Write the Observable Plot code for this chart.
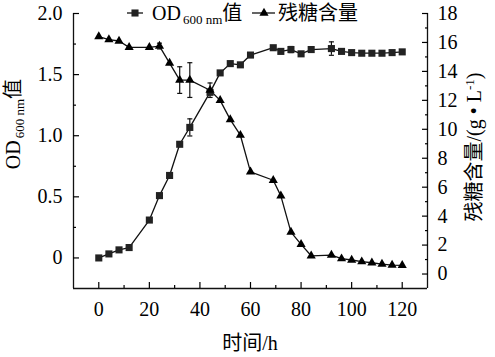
<!DOCTYPE html>
<html><head><meta charset="utf-8">
<script src="https://cdn.jsdelivr.net/npm/d3@7"></script>
<script src="https://cdn.jsdelivr.net/npm/@observablehq/plot@0.6"></script>
<style>
body{margin:0;background:#fff;}
#chart{position:relative;width:495px;height:357px;}
#chart svg, #chart svg text, #chart svg tspan {font-family:'Liberation Serif','Noto Sans CJK SC',serif !important;}
</style></head><body><div id="chart"></div>
<script>
const time  = [0, 4, 8, 12, 20, 24, 28, 32, 36, 44, 48, 52, 56, 60, 69, 72, 76, 80, 84, 92, 96, 100, 104, 108, 112, 116, 120];
const od    = [0, 0.033, 0.066, 0.085, 0.31, 0.51, 0.675, 0.93, 1.068, 1.355, 1.514, 1.59, 1.58, 1.66, 1.72, 1.69, 1.705, 1.67, 1.705, 1.713, 1.69, 1.68, 1.675, 1.675, 1.675, 1.68, 1.686];
const sugar = [16.4, 16.2, 16.1, 15.66, 15.66, 15.75, 14.57, 13.4, 13.4, 12.7, 12.0, 10.67, 9.59, 7.06, 6.48, 5.4, 2.9, 2.05, 1.26, 1.31, 1.06, 0.97, 0.85, 0.78, 0.69, 0.62, 0.6];
const odErrTime = [36, 76, 92];
const odErr = [0.07, 0.025, 0.055];
const sugarErrTime = [24, 32, 36, 44];
const sugarErr = [0.2, 0.92, 1.2, 0.5];
const xTicks = [0, 20, 40, 60, 80, 100, 120];
const xMinor = [10, 30, 50, 70, 90, 110];
const odTicks = [0, 0.5, 1.0, 1.5, 2.0];
const odMinor = [0.25, 0.75, 1.25, 1.75];
const sugarTicks = [0, 2, 4, 6, 8, 10, 12, 14, 16, 18];
const sugarMinor = [1, 3, 5, 7, 9, 11, 13, 15, 17];
const xDomain = [-10, 130];
const odDomain = [-0.25, 2.0];
const sugarDomain = [-1, 18];
const xTitle = "时间/h";
const legendOD = ["OD", "600 nm", "值"];
const legendSugar = "残糖含量";
const rightTitle = ["残糖含量/(g • L", "-1", ")"];

const toOD = v => odDomain[0] + (v - sugarDomain[0]) / (sugarDomain[1] - sugarDomain[0]) * (odDomain[1] - odDomain[0]);
const fromOD = y => sugarDomain[0] + (y - odDomain[0]) / (odDomain[1] - odDomain[0]) * (sugarDomain[1] - sugarDomain[0]);

const rows = time.map((t, i) => ({t, od: od[i], s: toOD(sugar[i])}));
const odErrRows = odErrTime.map((t, i) => ({t, v: od[time.indexOf(t)], e: odErr[i]}));
const sErrRows = sugarErrTime.map((t, i) => {
  const v = sugar[time.indexOf(t)];
  return {t, lo: toOD(v - sugarErr[i]), hi: toOD(v + sugarErr[i])};
});
const errRows = [
  ...odErrRows.map(d => ({t: d.t, lo: d.v - d.e, hi: d.v + d.e})),
  ...sErrRows
];
const capRows = errRows.flatMap(d => [{t: d.t, y: d.lo}, {t: d.t, y: d.hi}]);

const font = "'Liberation Serif','Noto Sans CJK SC',serif";
const ink = "#111";

const plot = Plot.plot({
  width: 495, height: 357,
  marginLeft: 73, marginRight: 68, marginTop: 13, marginBottom: 69,
  x: {domain: xDomain},
  y: {domain: odDomain},
  style: {fontSize: "20px", color: "#000", background: "#fff"},
  marks: [
    Plot.ruleX([xDomain[0], xDomain[1]], {stroke: ink, strokeWidth: 1.3}),
    Plot.ruleY([odDomain[0]], {stroke: ink, strokeWidth: 1.3}),
    Plot.axisX({ticks: xTicks, tickSize: -6, tickPadding: 19, tickFormat: d => String(d), label: null, strokeWidth: 1.2}),
    Plot.axisX({ticks: xMinor, tickSize: -3, tickFormat: () => "", label: null, strokeWidth: 1.2}),
    Plot.axisY({ticks: odTicks, anchor: "left", tickSize: -6, tickPadding: 17, tickFormat: d => d === 0 ? "0" : d.toFixed(1), label: null, strokeWidth: 1.2}),
    Plot.axisY({ticks: odMinor, anchor: "left", tickSize: -3, tickFormat: () => "", label: null, strokeWidth: 1.2}),
    Plot.axisY({ticks: sugarTicks.map(toOD), anchor: "right", tickSize: -6, tickPadding: 16, tickFormat: d => String(Math.round(fromOD(d))), label: null, strokeWidth: 1.2}),
    Plot.axisY({ticks: sugarMinor.map(toOD), anchor: "right", tickSize: -3, tickFormat: () => "", label: null, strokeWidth: 1.2}),
    Plot.line(rows, {x: "t", y: "od", stroke: ink, strokeWidth: 1.3}),
    Plot.line(rows, {x: "t", y: "s", stroke: ink, strokeWidth: 1.3}),
    Plot.ruleX(errRows, {x: "t", y1: "lo", y2: "hi", stroke: ink, strokeWidth: 1.2}),
    Plot.link(capRows, {x1: d => d.t - 1, x2: d => d.t + 1, y1: "y", y2: "y", stroke: ink, strokeWidth: 1.2}),
    Plot.dot(rows, {x: "t", y: "od", symbol: "square", r: 4, fill: "#222", stroke: null}),
    Plot.dot(rows, {x: "t", y: "s", symbol: "triangle", r: 3.4, fill: "#000", stroke: null})
  ]
});

const svg = d3.select(plot);
const txt = (sel) => sel.attr("text-anchor", "start").attr("fill", "#000").attr("font-family", font).attr("font-size", 20);
// legend
const lg = svg.append("g");
lg.append("line").attr("x1", 127).attr("x2", 143).attr("y1", 13).attr("y2", 13).attr("stroke", ink).attr("stroke-width", 1.3);
lg.append("path").attr("d", d3.symbol(d3.symbolSquare, Math.PI * 16)()).attr("transform", "translate(135,13)").attr("fill", "#222");
const t1 = txt(lg.append("text")).attr("x", 152).attr("y", 20);
t1.append("tspan").text(legendOD[0]);
t1.append("tspan").attr("font-size", 13).attr("dx", 2).attr("dy", 4).text(legendOD[1]);
t1.append("tspan").attr("dy", -4).text(legendOD[2]);
lg.append("line").attr("x1", 252).attr("x2", 275).attr("y1", 13).attr("y2", 13).attr("stroke", ink).attr("stroke-width", 1.3);
lg.append("path").attr("d", d3.symbol(d3.symbolTriangle, Math.PI * 3.4 * 3.4)()).attr("transform", "translate(264,13)").attr("fill", "#000");
txt(lg.append("text")).attr("x", 278).attr("y", 20).text(legendSugar);

// left title
const lt = txt(svg.append("text")).attr("transform", "translate(20,124) rotate(-90)").attr("text-anchor", "middle");
lt.append("tspan").text(legendOD[0]);
lt.append("tspan").attr("font-size", 13).attr("dx", 2).attr("dy", 4).text(legendOD[1]);
lt.append("tspan").attr("dy", -4).text(legendOD[2]);

// right title
const rt = txt(svg.append("text")).attr("transform", "translate(481,147) rotate(-90)").attr("text-anchor", "middle");
rt.append("tspan").text(rightTitle[0]);
rt.append("tspan").attr("font-size", 13).attr("dy", -7).text(rightTitle[1]);
rt.append("tspan").attr("dy", 7).text(rightTitle[2]);

// x title
txt(svg.append("text")).attr("x", 250).attr("y", 350).attr("text-anchor", "middle").text(xTitle);

document.getElementById("chart").appendChild(plot);
</script></body></html>
